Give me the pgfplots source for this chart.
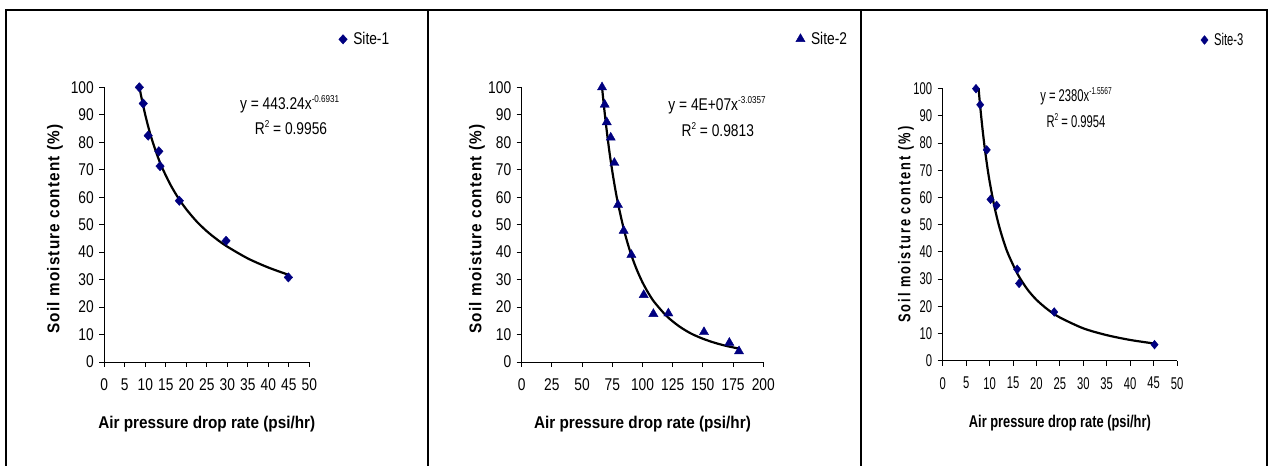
\documentclass[border=0pt]{standalone}
\usepackage{fontspec}
\setmainfont{Liberation Sans}
\newfontfamily\fontA{Liberation Sans}[FakeStretch=0.81]
\newfontfamily\fontB{Liberation Sans}[FakeStretch=0.90]
\newfontfamily\fontYA{Liberation Sans}[FakeStretch=0.90, LetterSpace=6.8]
\newfontfamily\fontC{Liberation Sans}[FakeStretch=0.66]
\newfontfamily\fontD{Liberation Sans}[FakeStretch=0.755]
\newfontfamily\fontYC{Liberation Sans}[FakeStretch=0.755, LetterSpace=11.6]
\usepackage{pgfplots}
\pgfplotsset{compat=1.18}
\definecolor{navy}{RGB}{0,0,128}

\newcommand\fsz{\fontsize{17bp}{18bp}\selectfont}
\newcommand\sups[1]{\raisebox{0.42em}{\fontsize{10bp}{10bp}\selectfont #1}}

\pgfplotsset{
  site/.style={
    scale only axis,
    axis lines=left,
    axis line style={-, line width=0.9bp},
    tick align=outside,
    major tick length=5bp,
    tick style={black, line width=0.9bp},
    enlargelimits=false,
    ymin=0, ymax=100, ytick={0,10,...,100},
    /pgf/number format/assume math mode=true,
    yticklabel style={xshift=-2bp},
    xticklabel style={yshift=-8bp},
    xlabel={Air pressure drop rate (psi/hr)},
    ylabel={Soil moisture content (\%)},
    legend style={draw=none, fill=none, inner sep=0pt, anchor=west,
      /tikz/every odd column/.append style={column sep=4bp}},
    legend cell align=left,
    clip=false,
  },
  trend/.style={black, line width=2.2bp, smooth, forget plot},
  pts/.style={only marks, color=navy, mark options={fill=navy, draw=navy}},
}

\begin{document}
\begin{tikzpicture}
\useasboundingbox (0,0) rectangle (1270bp,466bp);

% panel frames
\draw[line width=2bp] (5.5bp,-10bp) -- (5.5bp,456bp) -- (1266.7bp,456bp) -- (1266.7bp,-10bp);
\draw[line width=2bp] (427.7bp,456bp) -- (427.7bp,-10bp);
\draw[line width=2bp] (860.7bp,456bp) -- (860.7bp,-10bp);

% Site-1
\begin{axis}[site,
  at={(104.3bp,104bp)}, anchor=south west,
  width=205bp, height=274.7bp,
  xmin=0, xmax=50, xtick={0,5,...,50},
  tick label style={font=\fontA\fsz},
  xlabel style={font=\fontB\bfseries\fsz, at={(axis description cs:0.5,-0.225)}, anchor=center},
  ylabel style={font=\fontYA\bfseries\fsz, at={(axis description cs:-0.2405,0.484)}, anchor=center},
  legend style={at={(1.143,1.1747)}, font=\fontA\fsz},
]
\addplot[pts, mark=diamond*, mark size=4.7bp, mark options={xscale=1.2}] coordinates {
  (8.54,100) (9.5,94.1) (10.7,82.4) (13.3,76.7) (13.6,71.3)
  (18.3,58.7) (29.7,44.1) (44.9,30.8)
};
\addlegendentry{Site-1}
\addplot[trend] coordinates {
  (8.5,100.6) (9,96.7) (10,89.9) (11,84.1) (12,79.2) (13,74.9) (14,71.1)
  (16,64.9) (18,59.8) (20,55.6) (22.5,51.2) (25,47.6) (27.5,44.6)
  (30,42.0) (35,37.7) (40,34.4) (45,31.7)
};
\end{axis}

% Site-2
\begin{axis}[site,
  at={(521.7bp,104bp)}, anchor=south west,
  width=241.6bp, height=274.7bp,
  xmin=0, xmax=200, xtick={0,25,...,200},
  tick label style={font=\fontA\fsz},
  xlabel style={font=\fontB\bfseries\fsz, at={(axis description cs:0.5,-0.225)}, anchor=center},
  ylabel style={font=\fontYA\bfseries\fsz, at={(axis description cs:-0.185,0.484)}, anchor=center},
  legend style={at={(1.134,1.1758)}, font=\fontA\fsz},
]
\addplot[pts, mark=triangle*, mark size=5.3bp] coordinates {
  (66.5,100) (68.7,93.7) (70.4,87.3) (73.7,81.7) (76.7,72.5) (79.7,57.2)
  (84.4,47.8) (90.8,39.0) (101,24.4) (109,17.5) (121.4,17.7) (150.9,10.9)
  (171.9,7.0) (179.9,3.9)
};
\addlegendentry{Site-2}
\addplot[trend] coordinates {
  (66.5,100) (68,93.5) (70,85.6) (72.5,76.9) (75,69.4) (77.5,62.8) (80,57.1)
  (85,47.5) (90,39.9) (95,33.9) (100,29.0) (105,25.0) (110,21.7) (120,16.7)
  (130,13.1) (140,10.4) (150,8.47) (160,6.96) (170,5.79) (180,4.87)
};
\end{axis}

% Site-3
\begin{axis}[site,
  at={(942.7bp,105.3bp)}, anchor=south west,
  width=234.3bp, height=272bp,
  xmin=0, xmax=50, xtick={0,5,...,50},
  tick label style={font=\fontC\fsz},
  xlabel style={font=\fontD\bfseries\fsz, at={(axis description cs:0.5,-0.231)}, anchor=center},
  ylabel style={font=\fontYC\bfseries\fsz, at={(axis description cs:-0.157,0.5)}, anchor=center},
  legend style={at={(1.101,1.179)}, font=\fontC\fsz},
]
\addplot[pts, mark=diamond*, mark size=4.4bp, mark options={xscale=1.1}] coordinates {
  (7.1,100) (8.0,94.1) (9.4,77.5) (10.2,59.3) (11.5,57.1)
  (15.9,33.6) (16.3,28.4) (23.8,17.9) (45.2,5.9)
};
\addlegendentry{Site-3}
\addplot[trend] coordinates {
  (7.65,100.2) (8,93.5) (8.5,85.1) (9,77.8) (9.5,71.5) (10,66.0) (11,56.9)
  (12,49.7) (13,43.9) (14,39.1) (16,31.8) (18,26.4) (20,22.4) (22.5,18.7)
  (25,15.9) (30,11.9) (35,9.40) (40,7.63) (45,6.35)
};
\end{axis}

% fitted equations
\node[anchor=base, font=\fontA\fsz, inner sep=0pt] at (289.7bp,356.5bp) {y = 443.24x\sups{-0.6931}};
\node[anchor=base, font=\fontA\fsz, inner sep=0pt] at (291bp,331bp) {R\sups{2} = 0.9956};
\node[anchor=base, font=\fontA\fsz, inner sep=0pt] at (717bp,355.5bp) {y = 4E+07x\sups{-3.0357}};
\node[anchor=base, font=\fontA\fsz, inner sep=0pt] at (717.8bp,329.5bp) {R\sups{2} = 0.9813};
\node[anchor=base, font=\fontC\fsz, inner sep=0pt] at (1076bp,364bp) {y = 2380x\sups{-1.5567}};
\node[anchor=base, font=\fontC\fsz, inner sep=0pt] at (1076bp,338bp) {R\sups{2} = 0.9954};
\end{tikzpicture}
\end{document}
